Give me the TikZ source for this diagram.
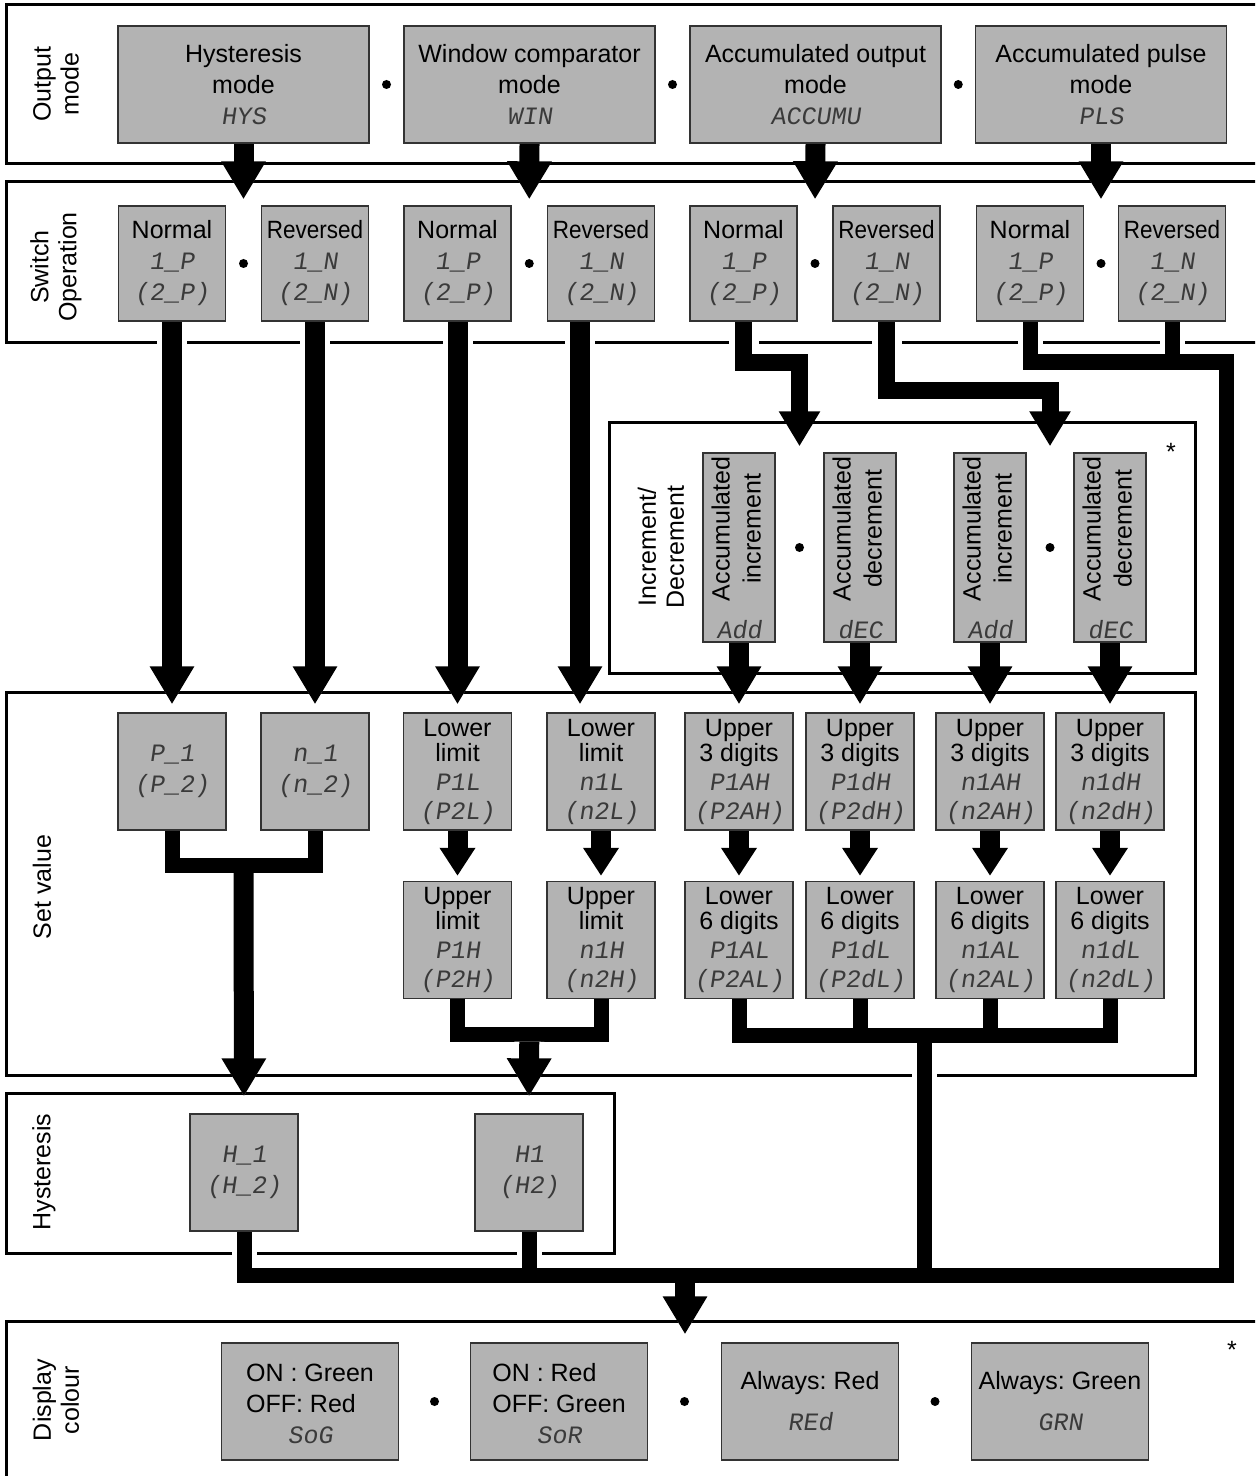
\documentclass[tikz,border=0pt]{standalone}
\usepackage{fontspec}
\setmainfont{Liberation Sans}
\newfontfamily\segfont[FakeSlant=0.15]{Liberation Mono}
\usepackage{graphicx}
\usetikzlibrary{arrows.meta, calc, backgrounds}
\definecolor{boxc}{HTML}{B3B3B3}
\definecolor{segc}{HTML}{3A3A3A}
\newcommand{\seg}[1]{{\segfont\color{segc}#1}}
\frenchspacing

\begin{document}
\begin{tikzpicture}[x=0.5pt, y=-0.5pt, font=\fontsize{12.5}{15.5}\selectfont,
    panel/.style={draw=black!80, line width=0.7pt, fill=boxc, align=center, inner sep=0pt},
    modebox/.style={panel, minimum width=125.5pt, minimum height=58.5pt},
    swbox/.style={panel, minimum width=53.5pt, minimum height=57.5pt},
    svbox/.style={panel, minimum width=54pt, minimum height=58.5pt,
                  font=\fontsize{12.5}{12.5}\selectfont},
    accbox/.style={panel, minimum width=36pt, minimum height=94.5pt},
    colbox/.style={panel, minimum width=88.5pt, minimum height=58.5pt},
    zone/.style={draw, line width=1.5pt},
    side/.style={rotate=90, align=center, font=\fontsize{12.5}{14}\selectfont},
    pipe/.style={line width=7.5pt, preaction={draw=white, line width=12.5pt}},
    flow/.style={line width=10pt, -{Triangle[length=9pt 1, width=11pt 1]},
                 preaction={draw=white, line width=15pt}}]
  \useasboundingbox (0,0) rectangle (1255,1476);

  % output mode
  \node[modebox] (hys) at (243.5,84.5) {Hysteresis\\mode\\\seg{HYS}};
  \node[modebox] (win) at (529.5,84.5) {Window comparator\\mode\\\seg{WIN}};
  \node[modebox] (acc) at (815.5,84.5) {Accumulated output\\mode\\\seg{ACCUMU}};
  \node[modebox] (pls) at (1101,84.5) {Accumulated pulse\\mode\\\seg{PLS}};

  % switch operation
  \node[swbox] (hn) at (172,263.5) {Normal\\\seg{1\_P}\\\seg{(2\_P)}};
  \node[swbox] (hr) at (315,263.5) {\scalebox{0.9}[1]{Reversed}\\\seg{1\_N}\\\seg{(2\_N)}};
  \node[swbox] (wn) at (457.5,263.5) {Normal\\\seg{1\_P}\\\seg{(2\_P)}};
  \node[swbox] (wr) at (601,263.5) {\scalebox{0.9}[1]{Reversed}\\\seg{1\_N}\\\seg{(2\_N)}};
  \node[swbox] (an) at (743.5,263.5) {Normal\\\seg{1\_P}\\\seg{(2\_P)}};
  \node[swbox] (ar) at (886.5,263.5) {\scalebox{0.9}[1]{Reversed}\\\seg{1\_N}\\\seg{(2\_N)}};
  \node[swbox] (pn) at (1030,263.5) {Normal\\\seg{1\_P}\\\seg{(2\_P)}};
  \node[swbox] (pr) at (1172,263.5) {\scalebox{0.9}[1]{Reversed}\\\seg{1\_N}\\\seg{(2\_N)}};

  % increment / decrement
  \node[accbox] (ai1) at (739,547.5)
    {\rotatebox{90}{\begin{tabular}{@{}c@{}}Accumulated\\increment\end{tabular}}\\[3pt]\seg{Add}};
  \node[accbox] (ad1) at (860,547.5)
    {\rotatebox{90}{\begin{tabular}{@{}c@{}}Accumulated\\decrement\end{tabular}}\\[3pt]\seg{dEC}};
  \node[accbox] (ai2) at (990,547.5)
    {\rotatebox{90}{\begin{tabular}{@{}c@{}}Accumulated\\increment\end{tabular}}\\[3pt]\seg{Add}};
  \node[accbox] (ad2) at (1110,547.5)
    {\rotatebox{90}{\begin{tabular}{@{}c@{}}Accumulated\\decrement\end{tabular}}\\[3pt]\seg{dEC}};

  % set value
  \node[svbox] (p1) at (172,771.5) {\seg{P\_1}\\[3pt]\seg{(P\_2)}};
  \node[svbox] (n1) at (315,771.5) {\seg{n\_1}\\[3pt]\seg{(n\_2)}};
  \node[svbox] (pl) at (457.5,771.5) {Lower\\limit\\[2pt]\seg{P1L}\\[2pt]\seg{(P2L)}};
  \node[svbox] (nl) at (601,771.5) {Lower\\limit\\[2pt]\seg{n1L}\\[2pt]\seg{(n2L)}};
  \node[svbox] (pah) at (739,771.5) {Upper\\3 digits\\[2pt]\seg{P1AH}\\[2pt]\seg{(P2AH)}};
  \node[svbox] (pdh) at (860,771.5) {Upper\\3 digits\\[2pt]\seg{P1dH}\\[2pt]\seg{(P2dH)}};
  \node[svbox] (nah) at (990,771.5) {Upper\\3 digits\\[2pt]\seg{n1AH}\\[2pt]\seg{(n2AH)}};
  \node[svbox] (ndh) at (1110,771.5) {Upper\\3 digits\\[2pt]\seg{n1dH}\\[2pt]\seg{(n2dH)}};
  \node[svbox] (ph) at (457.5,940) {Upper\\limit\\[2pt]\seg{P1H}\\[2pt]\seg{(P2H)}};
  \node[svbox] (nh) at (601,940) {Upper\\limit\\[2pt]\seg{n1H}\\[2pt]\seg{(n2H)}};
  \node[svbox] (pal) at (739,940) {Lower\\6 digits\\[2pt]\seg{P1AL}\\[2pt]\seg{(P2AL)}};
  \node[svbox] (pdl) at (860,940) {Lower\\6 digits\\[2pt]\seg{P1dL}\\[2pt]\seg{(P2dL)}};
  \node[svbox] (nal) at (990,940) {Lower\\6 digits\\[2pt]\seg{n1AL}\\[2pt]\seg{(n2AL)}};
  \node[svbox] (ndl) at (1110,940) {Lower\\6 digits\\[2pt]\seg{n1dL}\\[2pt]\seg{(n2dL)}};

  % hysteresis
  \node[svbox] (h1) at (244,1172.5) {\seg{H\_1}\\[3pt]\seg{(H\_2)}};
  \node[svbox] (hw) at (529,1172.5) {\seg{H1}\\[3pt]\seg{(H2)}};

  % display colour
  \node[colbox] (sog) at (310,1401.5)
    {\begin{tabular}[b]{@{}l@{}}ON : Green\\OFF: Red\end{tabular}\\\seg{SoG}};
  \node[colbox] (sor) at (559,1401.5)
    {\begin{tabular}[b]{@{}l@{}}ON : Red\\OFF: Green\end{tabular}\\\seg{SoR}};
  \node[colbox] (red) at (810,1401.5) {Always: Red\\[5pt]\seg{REd}};
  \node[colbox] (grn) at (1060,1401.5) {Always: Green\\[5pt]\seg{GRN}};

  % side labels
  \node[side] (lout) at (56,84) {Output\\mode};
  \node[side] (lsw) at (56,267) {Switch\\Operation};
  \node[side] (linc) at (661,547) {Increment/\\Decrement};
  \node[side] (lset) at (42,887) {Set value};
  \node[side] (lhys) at (44,1172) {Hysteresis};
  \node[side] (lcol) at (56,1400) {Display\\colour};
  \node (star1) at (1171,452) {*};
  \node (star2) at (1232,1350) {*};

  % "or" dots
  \foreach \a/\b in {hys/win, win/acc, acc/pls, hn/hr, wn/wr, an/ar, pn/pr,
                     ai1/ad1, ai2/ad2, sog/sor, sor/red, red/grn}
    \fill ($(\a.east)!.5!(\b.west)$) circle (2.25pt);

  \begin{scope}[on background layer]
    \clip (0,0) rectangle (1255,1476);
    % section frames
    \draw[zone] (6,5) rectangle (1270,164);
    \draw[zone] (6,182) rectangle (1270,343);
    \draw[zone] (609,422) rectangle (1195,673);
    \draw[zone] (6,692) rectangle (1195,1075);
    \draw[zone] (6,1093) rectangle (614,1253);
    \draw[zone] (6,1321) rectangle (1270,1490);

    % mode -> switch operation
    \foreach \m/\l/\r in {hys/hn/hr, win/wn/wr, acc/an/ar, pls/pn/pr}
      \draw[flow, shorten >=3pt] (\m.south) -- ($(\l.north)!.5!(\r.north)$);

    % accumulated output -> increment/decrement
    \draw[flow, line width=8.5pt, shorten >=3pt]
      (an.south) -- ++(0,41) -| ($(ai1.north)!.5!(ad1.north)$);
    \draw[flow, line width=8.5pt, shorten >=3pt]
      (ar.south) -- ++(0,69) -| ($(ai2.north)!.5!(ad2.north)$);

    % into set value
    \foreach \a/\b in {hn/p1, hr/n1, wn/pl, ai1/pah, ad1/pdh, ai2/nah, ad2/ndh}
      \draw[flow, shorten >=4pt] (\a.south) -- (\b.north);
    \draw[flow, shorten >=4pt] ([xshift=-10.5pt]wr.south) -- ([xshift=-10.5pt]nl.north);
    \foreach \a/\b in {pl/ph, nl/nh, pah/pal, pdh/pdl, nah/nal, ndh/ndl}
      \draw[flow, -{Triangle[length=14pt, width=17pt]}, shorten >=2.5pt] (\a.south) -- (\b.north);

    % set value -> hysteresis
    \draw[pipe] (p1.south) -- ++(0,35) -| (n1.south);
    \draw[flow, shorten >=8.5pt] ($(p1.south)!.5!(n1.south)+(0,42.5)$) -- (h1.north);
    \draw[pipe] (ph.south) -- ++(0,35) -| (nh.south);
    \draw[flow, shorten >=8.5pt] ($(ph.south)!.5!(nh.south)+(0,42.5)$) -- (hw.north);

    % collecting bus -> display colour
    \coordinate (drop) at ($(pal.south)!.5!(ndl.south)+(0,36)$);
    \coordinate (bus) at (685,1275);
    \coordinate (rail) at (1226,362);
    \draw[pipe] (pal.south) -- ++(0,36) -| (ndl.south)
      (pdl.south) -- ++(0,36) (nal.south) -- ++(0,36)
      (drop) -- (drop |- bus)
      (hw.south) -- (hw.south |- bus)
      (pr.south) -- (pr.south |- rail)
      (h1.south) |- (bus) -| (rail) -| (pn.south);
    \draw[flow, shorten >=4pt] ($(bus)+(0,7.5)$) -- (bus |- sor.north);
  \end{scope}
\end{tikzpicture}
\end{document}
